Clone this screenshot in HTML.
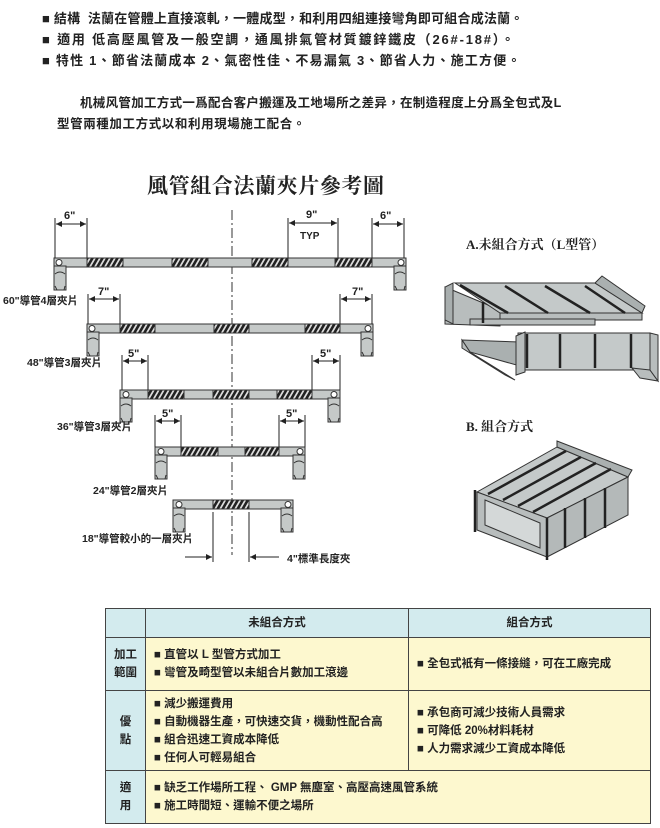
<!DOCTYPE html>
<html><head><meta charset="utf-8"><style>
body{margin:0;width:660px;height:828px;background:#fff;position:relative;overflow:hidden;font-family:"Liberation Sans","Noto Sans CJK TC",sans-serif;color:#222}
.t{position:absolute;font-weight:bold;white-space:nowrap}
table{position:absolute;left:105px;top:608px;width:546px;border-collapse:collapse;font-size:11.5px;font-weight:bold;color:#222}
td{border:1px solid #444;background:#fdf8cf;padding:0 0 0 8px;line-height:18px;vertical-align:middle}
td.h{background:#d3ebee;text-align:center;padding:0}
td.l{background:#d3ebee;text-align:center;padding:0;width:39px}
</style></head><body>
<div class="t" style="left:42px;top:8px;font-size:13px;letter-spacing:0.2px">■ 結構 &nbsp;法蘭在管體上直接滾軋，一體成型，和利用四組連接彎角即可組合成法蘭。</div>
<div class="t" style="left:42px;top:29px;font-size:13px;letter-spacing:1.8px">■ 適用 低高壓風管及一般空調，通風排氣管材質鍍鋅鐵皮（26#-18#）。</div>
<div class="t" style="left:42px;top:50px;font-size:13px;letter-spacing:1.2px">■ 特性 1、節省法蘭成本 2、氣密性佳、不易漏氣 3、節省人力、施工方便。</div>
<div class="t" style="left:80px;top:92px;font-size:12.5px;letter-spacing:0.3px">机械风管加工方式一爲配合客户搬運及工地場所之差异，在制造程度上分爲全包式及L</div>
<div class="t" style="left:57px;top:113px;font-size:12.5px;letter-spacing:0.6px">型管兩種加工方式以和利用現場施工配合。</div>
<div class="t" style="left:147px;top:170px;font-size:21px;font-family:'Liberation Serif','Noto Serif CJK SC',serif;letter-spacing:0.6px">風管組合法蘭夾片參考圖</div>
<div class="t" style="left:466px;top:234px;font-size:13px;font-family:'Liberation Serif','Noto Serif CJK SC',serif">A.未組合方式（L型管）</div>
<div class="t" style="left:466px;top:416px;font-size:13px;font-family:'Liberation Serif','Noto Serif CJK SC',serif">B. 組合方式</div>

<svg width="660" height="600" style="position:absolute;left:0;top:0" font-family="Liberation Sans,Noto Sans CJK TC,sans-serif" font-weight="bold">
<defs>
<pattern id="h" width="5" height="8" patternUnits="userSpaceOnUse" patternTransform="skewX(-30)"><rect width="5" height="8" fill="#ddd"/><rect width="3" height="8" fill="#222"/></pattern>
<marker id="a" markerWidth="6" markerHeight="6" refX="6" refY="3" orient="auto"><path d="M0,0L6,3L0,6z" fill="#222"/></marker>
<marker id="b" markerWidth="6" markerHeight="6" refX="0" refY="3" orient="auto"><path d="M6,0L0,3L6,6z" fill="#222"/></marker>
<g id="lg"><rect x="0" y="0" width="12" height="24" fill="#c5c9c8" stroke="#333"/><path d="M1,8q5,-4 10,0M1,20l2,4M11,20l-1,4" stroke="#333" fill="none"/></g>
</defs>
<g stroke="#333" stroke-width="1">
<line x1="232" y1="210" x2="232" y2="555" stroke-dasharray="10,3,2,3"/>
</g>
<g stroke="#333" fill="#c5c9c8">
<rect x="54" y="258" width="352" height="9"/><use href="#lg" x="54" y="266"/><use href="#lg" x="394" y="266"/>
<circle cx="59" cy="262.5" r="3" fill="#fff"/><circle cx="401" cy="262.5" r="3" fill="#fff"/>
<rect x="87" y="258" width="36" height="9" fill="url(#h)"/><rect x="172" y="258" width="36" height="9" fill="url(#h)"/><rect x="252" y="258" width="36" height="9" fill="url(#h)"/><rect x="335" y="258" width="37" height="9" fill="url(#h)"/>

<rect x="87" y="324" width="286" height="9"/><use href="#lg" x="87" y="332"/><use href="#lg" x="361" y="332"/>
<circle cx="92" cy="328.5" r="3" fill="#fff"/><circle cx="368" cy="328.5" r="3" fill="#fff"/>
<rect x="120" y="324" width="35" height="9" fill="url(#h)"/><rect x="214" y="324" width="35" height="9" fill="url(#h)"/><rect x="305" y="324" width="35" height="9" fill="url(#h)"/>

<rect x="120" y="390" width="220" height="9"/><use href="#lg" x="120" y="398"/><use href="#lg" x="328" y="398"/>
<circle cx="126" cy="394.5" r="3" fill="#fff"/><circle cx="334" cy="394.5" r="3" fill="#fff"/>
<rect x="148" y="390" width="36" height="9" fill="url(#h)"/><rect x="213" y="390" width="36" height="9" fill="url(#h)"/><rect x="277" y="390" width="35" height="9" fill="url(#h)"/>

<rect x="155" y="447" width="150" height="9"/><use href="#lg" x="155" y="455"/><use href="#lg" x="293" y="455"/>
<circle cx="161" cy="451.5" r="3" fill="#fff"/><circle cx="300" cy="451.5" r="3" fill="#fff"/>
<rect x="181" y="447" width="37" height="9" fill="url(#h)"/><rect x="245" y="447" width="34" height="9" fill="url(#h)"/>

<rect x="173" y="500" width="120" height="9"/><use href="#lg" x="173" y="508"/><use href="#lg" x="281" y="508"/>
<circle cx="179" cy="504.5" r="3" fill="#fff"/><circle cx="288" cy="504.5" r="3" fill="#fff"/>
<rect x="213" y="500" width="36" height="9" fill="url(#h)"/>
</g>
<g stroke="#222" fill="none">
<path d="M55,218V258M87,218V258M288,218V258M338,218V258M372,218V258M404,218V258"/>
<line x1="56" y1="224" x2="86" y2="224" marker-start="url(#b)" marker-end="url(#a)"/>
<line x1="289" y1="223" x2="337" y2="223" marker-start="url(#b)" marker-end="url(#a)"/>
<line x1="373" y1="224" x2="403" y2="224" marker-start="url(#b)" marker-end="url(#a)"/>
<path d="M88,294V324M120,294V324M340,294V324M372,294V324"/>
<line x1="89" y1="299" x2="119" y2="299" marker-start="url(#b)" marker-end="url(#a)"/>
<line x1="341" y1="299" x2="371" y2="299" marker-start="url(#b)" marker-end="url(#a)"/>
<path d="M122,355V390M148,355V390M312,355V390M340,355V390"/>
<line x1="123" y1="361" x2="147" y2="361" marker-start="url(#b)" marker-end="url(#a)"/>
<line x1="313" y1="361" x2="339" y2="361" marker-start="url(#b)" marker-end="url(#a)"/>
<path d="M155,415V447M181,415V447M279,415V447M305,415V447"/>
<line x1="156" y1="421" x2="180" y2="421" marker-start="url(#b)" marker-end="url(#a)"/>
<line x1="280" y1="421" x2="304" y2="421" marker-start="url(#b)" marker-end="url(#a)"/>
<path d="M213,512V562M249,512V562"/>
<line x1="185" y1="557" x2="212" y2="557" marker-end="url(#a)"/>
<line x1="279" y1="557" x2="250" y2="557" marker-end="url(#a)"/>
</g>
<g font-size="11" fill="#222">
<text x="64" y="219">6"</text><text x="306" y="218">9"</text><text x="300" y="239" font-size="10">TYP</text><text x="380" y="219">6"</text>
<text x="98" y="295">7"</text><text x="352" y="295">7"</text>
<text x="128" y="357">5"</text><text x="320" y="357">5"</text>
<text x="162" y="417">5"</text><text x="286" y="417">5"</text>
<text x="3" y="304" font-size="10.5">60"導管4層夾片</text>
<text x="27" y="366" font-size="10.5">48"導管3層夾片</text>
<text x="57" y="430" font-size="10.5">36"導管3層夾片</text>
<text x="93" y="494" font-size="10.5">24"導管2層夾片</text>
<text x="82" y="542" font-size="10.5">18"導管較小的一層夾片</text>
<text x="287" y="562" font-size="10.5">4"標準長度夾</text>
</g>
<g stroke="#333" fill="#b8bdbd" stroke-width="1">
<polygon points="445,287 500,310 500,326 445,324"/>
<polygon points="453,283 453,324 445,320 445,287" fill="#a8aeae"/>
<polygon points="455,283 595,283 642,313 500,313" fill="#c4c9c9"/>
<polygon points="500,313 642,313 642,320 500,320"/>
<polygon points="595,283 602,276 645,306 642,313" fill="#aab0b0"/>
<polygon points="470,319 595,319 595,325 470,325"/>
<g stroke="#222" stroke-width="2.5"><line x1="460" y1="285" x2="508" y2="313"/><line x1="505" y1="286" x2="548" y2="313"/><line x1="545" y1="286" x2="590" y2="313"/><line x1="585" y1="286" x2="625" y2="313"/><line x1="483" y1="302" x2="483" y2="323"/></g>
<polygon points="518,333 650,333 650,370 518,370" fill="#c4c9c9"/>
<polygon points="462,340 520,342 520,366 470,352" fill="#aab0b0"/>
<polygon points="462,340 470,352 515,380 505,375 462,348"/>
<polygon points="516,336 525,332 525,372 516,375"/>
<polygon points="632,368 650,370 658,381 640,378"/>
<polygon points="650,333 658,335 658,381 650,370"/>
<g stroke="#222" stroke-width="2.5"><line x1="527" y1="334" x2="527" y2="368"/><line x1="560" y1="334" x2="560" y2="368"/><line x1="595" y1="334" x2="595" y2="368"/><line x1="631" y1="334" x2="631" y2="368"/></g>
</g>
<g stroke="#333" fill="#c4c9c9">
<polygon points="477,492 557,447 628,477 547,518"/>
<polygon points="547,518 628,477 628,515 547,557" fill="#b4b9b9"/>
<polygon points="477,492 547,518 547,557 477,530" fill="#b8bdbd"/>
<polygon points="485,500 540,523 540,548 485,525" fill="#d4d8d8"/>
<polygon points="557,447 557,441 632,470 628,477" fill="#aab0b0"/>
<g stroke="#222" stroke-width="2.5"><line x1="488" y1="494" x2="566" y2="451"/><line x1="503" y1="500" x2="581" y2="457"/><line x1="518" y1="506" x2="596" y2="463"/><line x1="533" y1="512" x2="611" y2="469"/>
<line x1="565" y1="508" x2="565" y2="548"/><line x1="585" y1="498" x2="585" y2="538"/><line x1="605" y1="488" x2="605" y2="528"/><line x1="475" y1="490" x2="475" y2="532"/><line x1="547" y1="518" x2="547" y2="560"/></g>
</g>
</svg>

<table>
<tr style="height:29px"><td class="h" style="width:39px"></td><td class="h" style="width:262px">未組合方式</td><td class="h">組合方式</td></tr>
<tr style="height:53px"><td class="l">加工<br>範圍</td><td>■ 直管以 L 型管方式加工<br>■ 彎管及畸型管以未組合片數加工滾邊</td><td>■ 全包式衹有一條接縫，可在工廠完成</td></tr>
<tr style="height:80px"><td class="l">優<br>點</td><td>■ 減少搬運費用<br>■ 自動機器生產，可快速交貨，機動性配合高<br>■ 組合迅速工資成本降低<br>■ 任何人可輕易組合</td><td>■ 承包商可減少技術人員需求<br>■ 可降低 20%材料耗材<br>■ 人力需求減少工資成本降低</td></tr>
<tr style="height:53px"><td class="l">適<br>用</td><td colspan="2">■ 缺乏工作場所工程、 GMP 無塵室、高壓高速風管系統<br>■ 施工時間短、運輸不便之場所</td></tr>
</table>
</body></html>
